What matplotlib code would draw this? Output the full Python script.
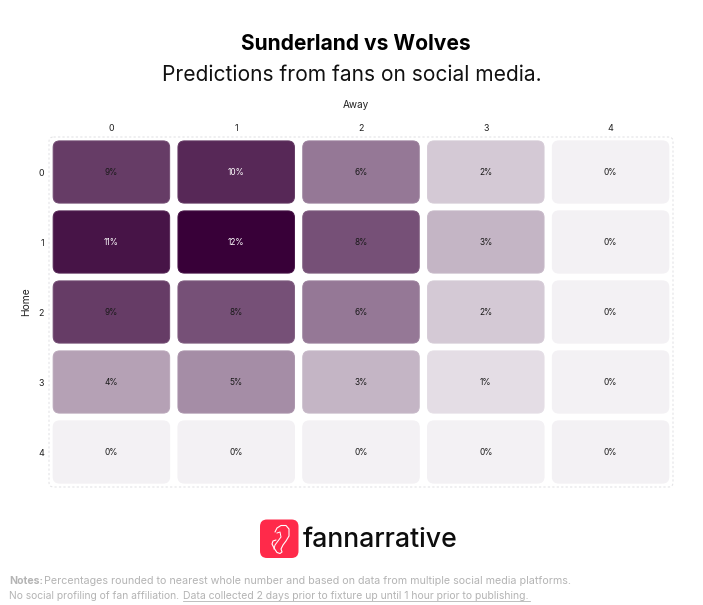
import matplotlib
matplotlib.use("Agg")
import matplotlib.pyplot as plt
import numpy as np
from matplotlib.patches import FancyBboxPatch
from matplotlib.colors import LinearSegmentedColormap

away_labels = ["0", "1", "2", "3", "4"]
home_labels = ["0", "1", "2", "3", "4"]
row_0 = [9, 10, 6, 2, 0]
row_1 = [11, 12, 8, 3, 0]
row_2 = [9, 8, 6, 2, 0]
row_3 = [4, 5, 3, 1, 0]
row_4 = [0, 0, 0, 0, 0]
values = np.array([row_0, row_1, row_2, row_3, row_4])

W, H = 703, 605
plt.rcParams['font.family'] = ['Inter', 'DejaVu Sans']
fig = plt.figure(figsize=(W / 100, H / 100), dpi=100, facecolor='white')
ax = fig.add_axes([49 / W, 1 - 487 / H, 624 / W, 350 / H])
ax.set_xlim(-0.5, 4.5)
ax.set_ylim(4.5, -0.5)
cmap = LinearSegmentedColormap.from_list('p', ['#f3f1f4', '#380038'])
asp = (624 / 5) / (350 / 5)
cw, ch = 116.5 / 124.8, 62.2 / 70
r = 6.5 / 124.8
for i, row in enumerate(values):
    for j, v in enumerate(row):
        t = v / values.max()
        ax.add_patch(FancyBboxPatch((j - cw / 2, i - ch / 2), cw, ch,
                                    boxstyle=f"round,pad=0,rounding_size={r}",
                                    mutation_aspect=asp,
                                    fc=cmap(t), ec=cmap(t * 0.92), lw=0.7))
        ax.text(j, i + 0.005, f"{v}%", ha='center', va='center', fontsize=6.0,
                color='white' if v >= 10 else '#1a1a1a')
ax.add_patch(FancyBboxPatch((-0.5, -0.5), 5, 5,
                            boxstyle=f"round,pad=0,rounding_size={r*0.7}",
                            mutation_aspect=asp, fc='none', ec='#e4e4e6',
                            lw=0.8, ls=(0, (2, 2)), clip_on=False))
ax.set_xticks(range(5), away_labels)
ax.set_yticks(range(5), home_labels)
ax.xaxis.tick_top()
ax.tick_params(axis='x', length=0, labelsize=6.4, colors='#222222', pad=2.8)
ax.tick_params(axis='y', length=0, labelsize=6.4, colors='#222222', pad=3.6)
for s in ax.spines.values():
    s.set_visible(False)

def px(x, y, s, **k):
    return fig.text(x / W, 1 - y / H, s, **k)

px(356, 44.5, "Sunderland vs Wolves", ha='center', va='center', fontsize=15.1, fontweight='bold', color='black')
px(351.5, 75, "Predictions from fans on social media.", ha='center', va='center', fontsize=15.1, color='#111111')
px(356, 105, "Away", ha='center', va='center', fontsize=7.2, color='#222222')
px(26, 302, "Home", ha='center', va='center', rotation=90, fontsize=7.4, color='#222222')

# logo
lax = fig.add_axes([0, 0, 1, 1], facecolor='none')
lax.set_xlim(0, W)
lax.set_ylim(H, 0)
lax.axis('off')
lax.add_patch(FancyBboxPatch((260, 519.5), 38.5, 38.5, boxstyle="round,pad=0,rounding_size=7",
                             fc='#ff2a4a', ec='none'))
ear_x = [275, 277, 281, 286, 289, 289, 286, 283, 281, 282, 280, 277, 274, 272, 273, 276]
ear_y = [532, 528, 525.5, 525.5, 529, 536, 541, 545, 549, 552, 553.5, 552.5, 548, 544, 541, 540]
lax.plot(ear_x, ear_y, color='white', lw=0.8, solid_capstyle='round')
lax.plot([277, 280, 281, 278, 275, 274], [533, 532, 537, 541, 545, 549], color='white', lw=0.7)
px(303, 540, "fannarrative", ha='left', va='center', fontsize=19.2, fontweight='medium', color='#0d0d0d')

# notes
c = '#b4b4b4'
px(9, 581.5, "Notes:", ha='left', va='center', fontsize=7.6, fontweight='bold', color=c)
px(44, 581.5, "Percentages rounded to nearest whole number and based on data from multiple social media platforms.",
   ha='left', va='center', fontsize=7.73, color=c)
px(9, 596, "No social profiling of fan affiliation.", ha='left', va='center', fontsize=7.4, color=c)
px(183, 596, "Data collected 2 days prior to fixture up until 1 hour prior to publishing.",
   ha='left', va='center', fontsize=7.52, color=c)
lax.plot([183, 530], [600.5, 600.5], color=c, lw=0.6)

fig.savefig('out.png', dpi=100, facecolor='white')
